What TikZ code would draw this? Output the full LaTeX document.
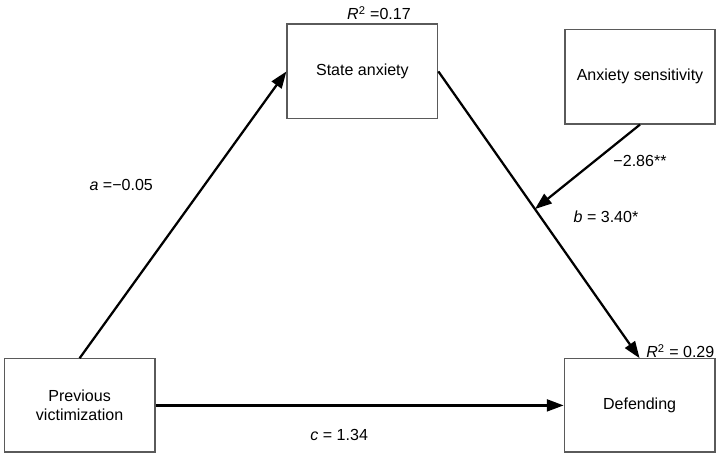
\documentclass[tikz,border=0pt]{standalone}
\usepackage{fontspec}
\setmainfont{Liberation Sans}
\usepackage{xcolor}
\usepackage{tikz}
\usetikzlibrary{positioning, arrows.meta}
\definecolor{boxGray}{RGB}{90, 90, 90}

\begin{document}
\begin{tikzpicture}[
    font=\fontsize{11.4}{13.6}\selectfont,
    var/.style={rectangle, draw=boxGray, line width=0.8pt, minimum width=3.77cm,
        minimum height=2.33cm, align=center, fill=white, inner sep=2pt},
    arr/.style={-{Triangle[length=12pt, width=8.5pt]}, line width=1.6pt, black},
    lbl/.style={inner sep=1pt}
]
\useasboundingbox (0,0) rectangle (18.05,11.475);

\node[var] (prev) at (1.99,1.34)  {Previous\\victimization};
\node[var, minimum height=2.37cm] (state) at (9.06,9.69) {State anxiety};
\node[var, minimum height=2.37cm, minimum width=3.75cm] (sens) at (16.0,9.56) {Anxiety sensitivity};
\node[var] (def)  at (15.99,1.34) {Defending};

\draw[arr] (prev.north) -- (state.west);
\draw[arr] (state.east) -- coordinate[pos=0.48] (mod) (def.north);
\draw[arr] (prev) -- (def);
\draw[arr] (sens.south) -- (mod);

% labels
\node[lbl] (r2state) at (9.475,11.15) {\textit{R}\textsuperscript{2} =0.17};
\node[lbl, anchor=east] (r2def) at (17.9,2.7) {\textit{R}\textsuperscript{2} = 0.29};
\node[lbl] (apath) at (3.03,6.85) {\textit{a} =−0.05};
\node[lbl] (wpath) at (16.0,7.45) {−2.86**};
\node[lbl] (bpath) at (15.15,6.05) {\textit{b} = 3.40*};
\node[lbl] (cpath) at (8.48,0.6)  {\textit{c} = 1.34};
\end{tikzpicture}
\end{document}
